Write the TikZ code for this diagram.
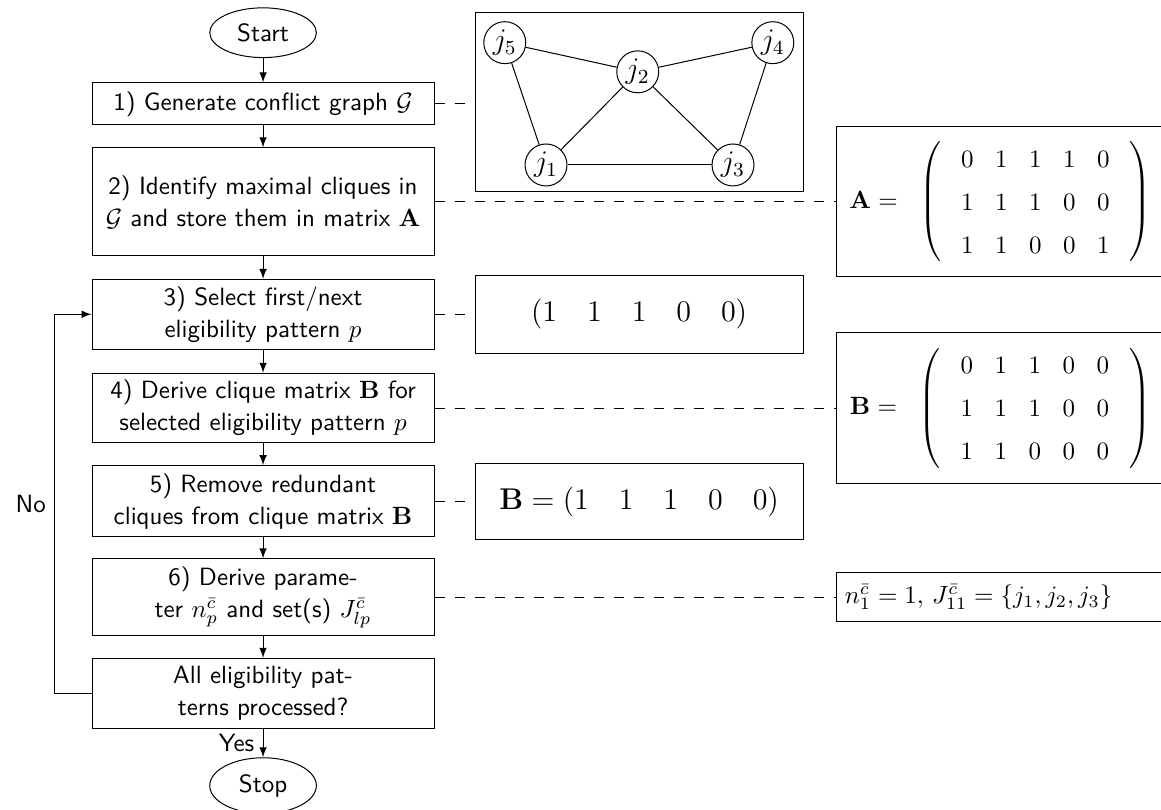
\documentclass[tikz,border=0pt]{standalone}
\usepackage{amsmath}
\usetikzlibrary{shapes.geometric}

\newcommand{\cliquematrix}[2]{%
  {\renewcommand{\arraystretch}{1.43}\setlength{\arraycolsep}{4.3pt}%
  $\mathbf{#1} = \;\;\left(\vrule height 26.3pt depth 21.3pt width 0pt
    \begin{array}{@{\hspace{8pt}}ccccc@{\hspace{8pt}}} #2 \end{array}\right)$}}

\tikzset{
  stepbox/.style={draw, rectangle, minimum width=4.81cm, text width=4.6cm, align=center, font={\sffamily\fontsize{10}{12.8}\selectfont}, inner sep=2pt},
  terminal/.style={draw, ellipse, minimum width=1.5cm, minimum height=0.7cm, font=\sffamily},
  infobox/.style={draw, rectangle, minimum width=4.61cm},
  matbox/.style={infobox, text width=4.3cm, align=center, anchor=west},
  vertex/.style={draw, circle, inner sep=1pt, font=\large},
  link/.style={dash pattern=on 4pt off 4pt},
  flow/.style={->, >=latex},
}

\begin{document}
\begin{tikzpicture}
    \useasboundingbox (0,0) rectangle (16.33,-11.39);
    % flow chart
    \node[terminal] (start) at (3.70,-0.46) {Start};
    \node[stepbox, minimum height=0.59cm] (gen) at (3.70,-1.46) {1) Generate conflict graph $\mathcal{G}$};
    \node[stepbox, minimum height=1.52cm] (ident) at (3.70,-2.84) {2) Identify maximal cliques in\\ $\mathcal{G}$ and store them in matrix $\mathbf{A}$};
    \node[stepbox, minimum height=0.98cm] (select) at (3.70,-4.42) {3) Select first/next\\ eligibility pattern $p$};
    \node[stepbox, minimum height=0.98cm] (derive) at (3.70,-5.74) {4) Derive clique matrix $\mathbf{B}$ for\\ selected eligibility pattern $p$};
    \node[stepbox, minimum height=1.0cm] (remove) at (3.70,-7.05) {5) Remove redundant\\ cliques from clique matrix $\mathbf{B}$};
    \node[stepbox, minimum height=1.08cm] (param) at (3.70,-8.40) {6) Derive parame-\\ ter $n_p^{\bar{c}}$ and set(s) $J_{lp}^{\bar{c}}$};
    \node[stepbox, minimum height=0.98cm] (done) at (3.70,-9.75) {All eligibility pat-\\ terns processed?};
    \node[terminal] (stop) at (3.70,-11.05) {Stop};

    \draw[flow] (start) -- (gen);
    \draw[flow] (gen) -- (ident);
    \draw[flow] (ident) -- (select);
    \draw[flow] (select) -- (derive);
    \draw[flow] (derive) -- (remove);
    \draw[flow] (remove) -- (param);
    \draw[flow] (param) -- (done);
    \draw[flow] (done) -- node[left, font=\sffamily] {Yes} (stop);
    \draw[flow] (done.west) -- ++(-0.52,0) |- node[pos=0.25, left, font=\sffamily] {No} (select.west);

    % conflict graph
    \node[infobox, minimum height=2.52cm] (graph) at (8.99,-1.44) {};
    \node[vertex] (j5) at (7.10,-0.60) {$j_5$};
    \node[vertex] (j2) at (8.97,-1.01) {$j_2$};
    \node[vertex] (j4) at (10.87,-0.60) {$j_4$};
    \node[vertex] (j1) at (7.68,-2.32) {$j_1$};
    \node[vertex] (j3) at (10.31,-2.32) {$j_3$};
    \draw (j5) -- (j2) -- (j4);
    \draw (j5) -- (j1) -- (j2) -- (j3) -- (j4);
    \draw (j1) -- (j3);

    % examples
    \node[matbox, minimum height=2.11cm] (matA) at (11.76,-2.84) {\cliquematrix{A}{0&1&1&1&0\\ 1&1&1&0&0\\ 1&1&0&0&1}};
    \node[infobox, minimum height=1.10cm] (pattern) at (8.99,-4.42) {\large $(1\quad 1\quad 1\quad 0\quad 0)$};
    \node[matbox, minimum height=2.12cm] (matB) at (11.76,-5.74) {\cliquematrix{B}{0&1&1&0&0\\ 1&1&1&0&0\\ 1&1&0&0&0}};
    \node[infobox, minimum height=1.07cm] (rowB) at (8.99,-7.06) {\large $\mathbf{B} = (1\quad 1\quad 1\quad 0\quad 0)$};
    \node[infobox, minimum height=0.69cm, text width=4.4cm, align=left, anchor=west] (sets) at (11.76,-8.40) {$n_1^{\bar{c}} = 1,\, J_{11}^{\bar{c}} = \{j_1, j_2, j_3\}$};

    \draw[link] (gen.east) -- (gen.east -| graph.west);
    \draw[link] (ident.east) -- (ident.east -| matA.west);
    \draw[link] (select.east) -- (select.east -| pattern.west);
    \draw[link] (derive.east) -- (derive.east -| matB.west);
    \draw[link] (remove.east) -- (remove.east -| rowB.west);
    \draw[link] (param.east) -- (param.east -| sets.west);
\end{tikzpicture}
\end{document}
